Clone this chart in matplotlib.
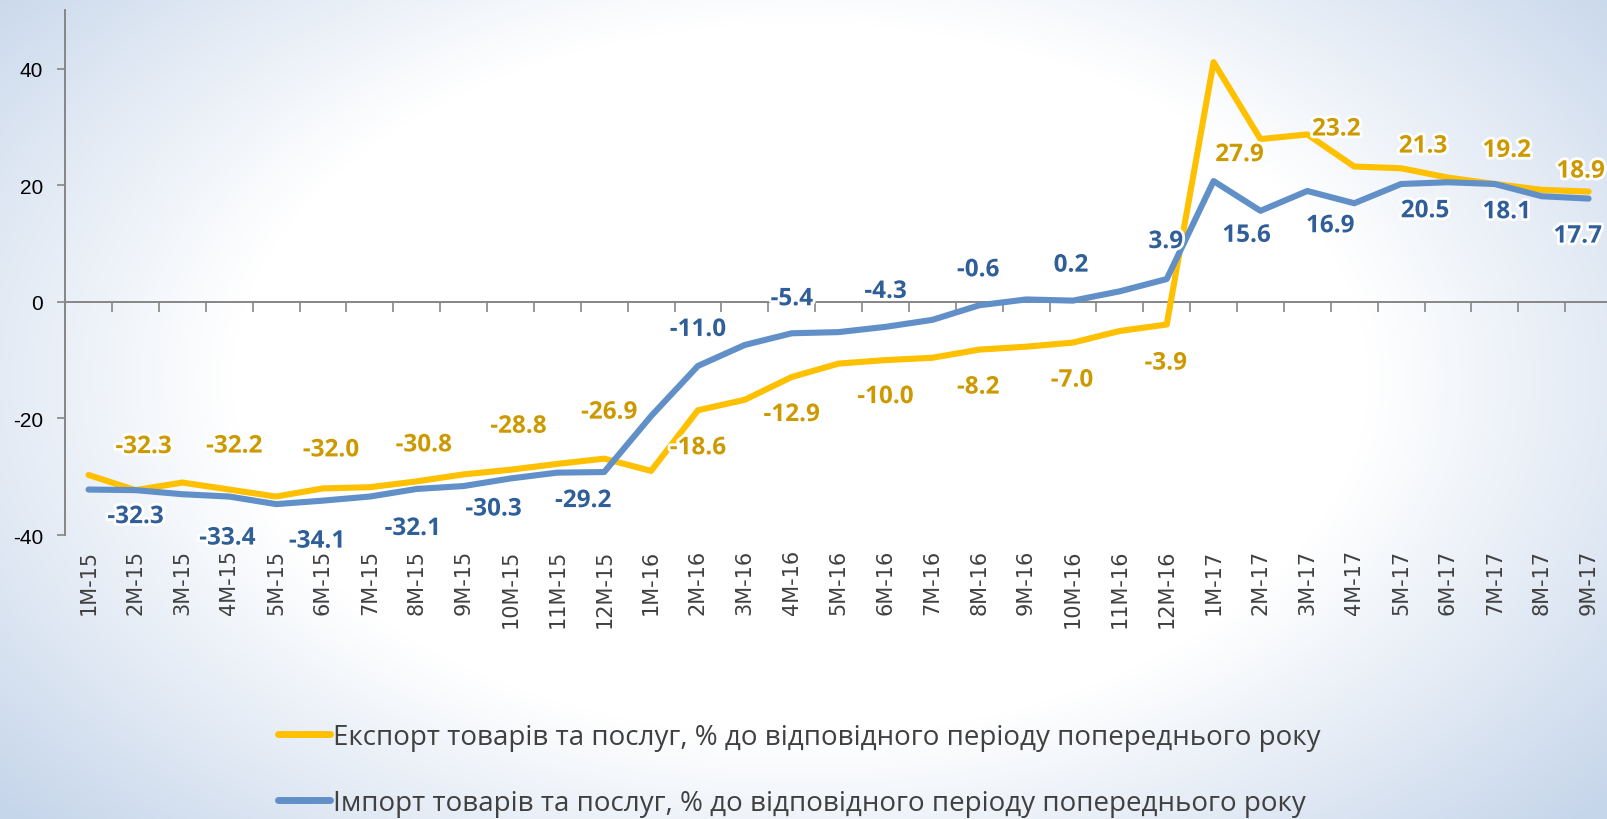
import numpy as np
import matplotlib
matplotlib.use("Agg")
from matplotlib import pyplot as plt
from matplotlib import patheffects as pe

plt.rcParams["axes.unicode_minus"] = False

# Data (% to the same period of the previous year)
months = ["1M-15", "2M-15", "3M-15", "4M-15", "5M-15", "6M-15", "7M-15", "8M-15", "9M-15",
          "10M-15", "11M-15", "12M-15",
          "1M-16", "2M-16", "3M-16", "4M-16", "5M-16", "6M-16", "7M-16", "8M-16", "9M-16",
          "10M-16", "11M-16", "12M-16",
          "1M-17", "2M-17", "3M-17", "4M-17", "5M-17", "6M-17", "7M-17", "8M-17", "9M-17"]
export_vals = [-29.7, -32.3, -31.0, -32.2, -33.4, -32.0, -31.8, -30.8, -29.6, -28.8, -27.8, -26.9,
               -29.0, -18.6, -16.8, -12.9, -10.6, -10.0, -9.6, -8.2, -7.7, -7.0, -5.0, -3.9,
               41.1, 27.9, 28.7, 23.2, 22.9, 21.3, 20.2, 19.2, 18.9]
import_vals = [-32.2, -32.3, -33.0, -33.4, -34.7, -34.1, -33.4, -32.1, -31.6, -30.3, -29.3, -29.2,
               -19.6, -11.0, -7.4, -5.4, -5.2, -4.3, -3.1, -0.6, 0.4, 0.2, 1.8, 3.9,
               20.7, 15.6, 19.0, 16.9, 20.2, 20.5, 20.2, 18.1, 17.7]
export_name = "Експорт товарів та послуг, % до відповідного періоду попереднього року"
import_name = "Імпорт товарів та послуг, % до відповідного періоду попереднього року"

# which points carry a value label
label_idx = [1, 3, 5, 7, 9, 11, 13, 15, 17, 19, 21, 23, 25, 27, 29, 31, 32]

# label offsets in pixels (dx, dy), placed by hand like in the original
export_off = [(8, 43), (5, 43), (8, 38), (7, 36), (8, 43), (5, 46), (0, -38), (0, -38), (0, -37),
              (-1, -38), (-1, -38), (-1, -39), (-21, -16), (-18, 37), (-25, 31), (-35, 39), (-8, 20)]
import_off = [(0, -27), (-2, -42), (-6, -41), (-4, -40), (-17, -31), (-21, -29), (0, 36), (0, 34),
              (0, 35), (-1, 35), (-2, 35), (-1, 37), (-14, -25), (-24, -23), (-23, -29), (-35, -16),
              (-11, -38)]

EXP_COLOR = "#FFC000"
IMP_COLOR = "#6190C8"
EXP_TEXT = "#CC9A00"
IMP_TEXT = "#2F5E98"
GRAY = "#868686"

fig = plt.figure(figsize=(16.08, 8.2), dpi=100)

# background: soft radial gradient, white centre -> pale blue edges
bg = fig.add_axes([0, 0, 1, 1], zorder=-10)
h, w = 820, 1608
yy, xx = np.mgrid[0:h, 0:w]
r = np.sqrt(((xx - 800) / 860.0) ** 2 + ((yy - 380) / 540.0) ** 2)
t = np.clip((r - 0.66) / 0.55, 0, 1)
edge = np.array([0.78, 0.84, 0.92])
img = (1 - t[..., None]) * np.ones(3) + t[..., None] * edge
bg.imshow(img, aspect="auto", interpolation="bilinear")
bg.axis("off")

ax = fig.add_axes([0.0405, 0.3463, 0.962, 0.640])
ax.patch.set_alpha(0)
x = np.arange(len(months))

ax.plot(x, export_vals, color=EXP_COLOR, lw=4.4, solid_joinstyle="round", solid_capstyle="round",
        label=export_name, zorder=3)
ax.plot(x, import_vals, color=IMP_COLOR, lw=4.4, solid_joinstyle="round", solid_capstyle="round",
        label=import_name, zorder=4)

glow = [pe.withStroke(linewidth=4, foreground="white")]
for k, i in enumerate(label_idx):
    ax.annotate(f"{export_vals[i]:.1f}", (x[i], export_vals[i]), xytext=export_off[k],
                textcoords="offset pixels", ha="center", va="center", fontsize=17.5,
                fontweight="bold", family="Open Sans", color=EXP_TEXT, path_effects=glow, zorder=6)
    ax.annotate(f"{import_vals[i]:.1f}", (x[i], import_vals[i]), xytext=import_off[k],
                textcoords="offset pixels", ha="center", va="center", fontsize=17.5,
                fontweight="bold", family="Open Sans", color=IMP_TEXT, path_effects=glow, zorder=6)

ax.set_xlim(-0.5, len(months) - 0.5)
ax.set_ylim(-40, 50)
ax.set_yticks([-40, -20, 0, 20, 40])
ax.tick_params(axis="y", direction="out", length=5.8, width=1.2, color=GRAY, labelsize=15,
               labelcolor="#000000", pad=10)
for lab in ax.get_yticklabels():
    lab.set_family("Liberation Sans")

for s in ["top", "right"]:
    ax.spines[s].set_visible(False)
ax.spines["left"].set_color(GRAY)
ax.spines["left"].set_linewidth(1.4)
ax.spines["bottom"].set_position(("data", 0))
ax.spines["bottom"].set_color(GRAY)
ax.spines["bottom"].set_linewidth(1.4)

# tick marks on the zero line between categories
ax.set_xticks(np.arange(-0.5, len(months), 1.0))
ax.tick_params(axis="x", direction="out", length=7, width=1.2, color=GRAY, labelbottom=False)

# category labels at the bottom of the plot
sec = ax.secondary_xaxis("bottom")
sec.set_xticks(x, months, rotation=90)
sec.tick_params(length=0, pad=10, labelsize=15, labelcolor="#404040")
sec.spines["bottom"].set_visible(False)

leg = fig.legend(loc="center", bbox_to_anchor=(0.497, 0.060), ncol=1, frameon=False,
                 handlelength=1.9, handletextpad=0.1, labelspacing=1.35,
                 prop={"family": "Open Sans", "size": 20})
for txt in leg.get_texts():
    txt.set_color("#404040")
for line in leg.get_lines():
    line.set_linewidth(5)

fig.savefig("out.png", dpi=100)
